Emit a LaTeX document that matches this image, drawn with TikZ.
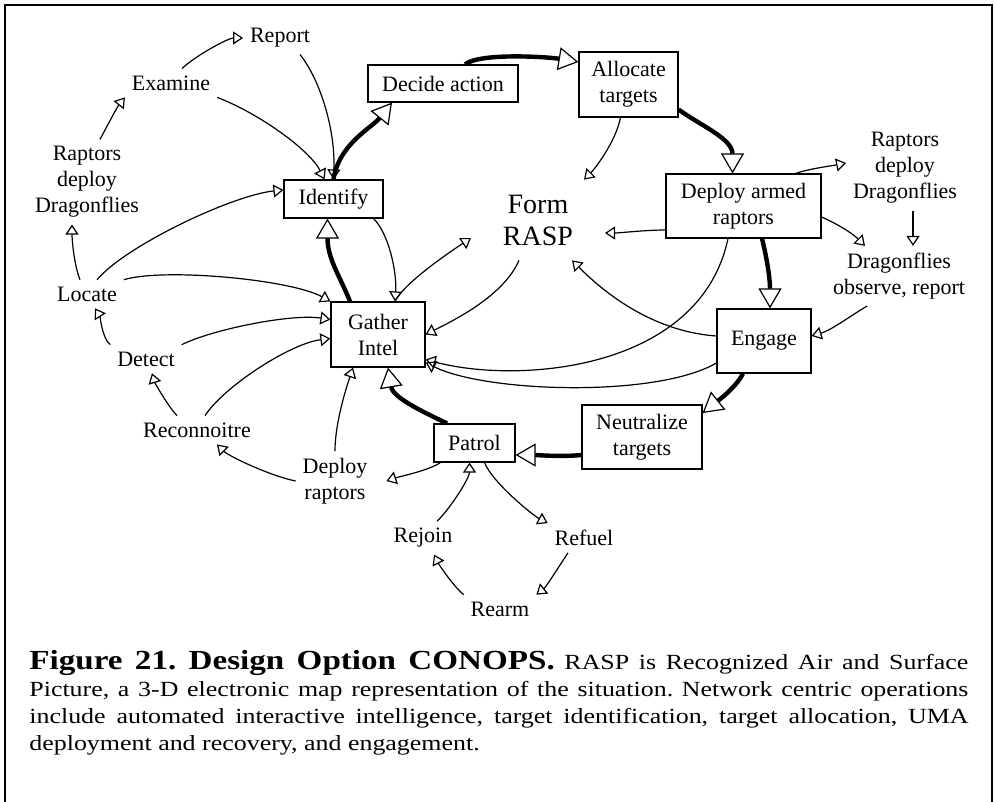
\documentclass[tikz,border=0pt]{standalone}
\usepackage{fontspec}
\setmainfont{Liberation Serif}
\newfontfamily\capfont[FakeStretch=1.2]{Liberation Serif}
\usepackage{tikz}
\usetikzlibrary{arrows.meta}
\newcommand{\labfont}{\fontsize{11}{13}\selectfont}
\newcommand{\raspfont}{\fontsize{14}{16}\selectfont}

\begin{document}
\frenchspacing
\begin{tikzpicture}[
          x=0.5pt, y=-0.5pt,
          box/.style={rectangle, draw, line width=0.6pt, inner sep=1pt,
                      align=center, font=\labfont},
          tag/.style={inner sep=2pt, outer sep=1.5pt, align=center,
                      font=\labfont},
          ar/.style={line width=0.6pt,
                     -{Triangle[open, length=5pt, width=6.5pt, line width=0.6pt]}},
          cyc/.style={line width=2.2pt,
                      -{Triangle[open, length=10pt, width=11.5pt, line width=0.6pt]}}
        ]
          \useasboundingbox (0,0) rectangle (995,802);
          \draw[line width=1pt] (5,802) -- (5,5) -- (992,5) -- (992,802);

          \node[box, minimum width=47pt, minimum height=32.5pt]   (gi)  at (378,334.5) {Gather\\Intel};
          \node[box, minimum width=49.5pt, minimum height=19pt]   (idf) at (333.5,199) {Identify};
          \node[box, minimum width=75pt, minimum height=18.5pt]   (dec) at (443,83.5)  {Decide action};
          \node[box, minimum width=49.5pt, minimum height=32.5pt] (alc) at (628.5,84.5) {Allocate\\targets};
          \node[box, minimum width=77.5pt, minimum height=32pt]   (dar) at (743.5,206) {Deploy armed\\raptors};
          \node[box, minimum width=47pt, minimum height=32pt]     (eng) at (764,341)   {Engage};
          \node[box, minimum width=60pt, minimum height=32pt]     (neu) at (642,437)   {Neutralize\\targets};
          \node[box, minimum width=40.5pt, minimum height=19pt]   (pat) at (474.5,443) {Patrol};

          \node[tag] (rep) at (280,38)  {Report};
          \node[tag] (exa) at (171,83)  {Examine};
          \node[tag] (rdl) at (87,182)  {Raptors\\deploy\\Dragonflies};
          \node[tag] (loc) at (87,294)  {Locate};
          \node[tag] (det) at (146,359) {Detect};
          \node[tag] (rec) at (197,430) {Reconnoitre};
          \node[tag] (dep) at (335,481) {Deploy\\raptors};
          \node[tag] (rjn) at (423,538) {Rejoin};
          \node[tag] (rrm) at (500,609) {Rearm};
          \node[tag] (rfl) at (584,538) {Refuel};
          \node[tag] (rdr) at (905,168) {Raptors\\deploy\\Dragonflies};
          \node[tag] (dob) at (899,276) {Dragonflies\\observe, report};
          \node[tag, font=\raspfont, inner xsep=16pt, inner ysep=7.5pt, outer sep=0pt] (rasp) at (538,220) {Form\\RASP};

          \draw[cyc] ([xshift=-14pt]gi.north) .. controls +(-10,-25) and +(0,40) .. ([xshift=-3pt]idf.south);
          \draw[cyc] (idf.north) .. controls +(5,-35) and +(-20,25) .. ([xshift=-25.5pt]dec.south);
          \draw[cyc] ([xshift=11pt]dec.north) .. controls +(15,-12) and +(-30,-5) .. ([yshift=11.25pt]alc.west);
          \draw[cyc] ([yshift=-12.5pt]alc.east) .. controls +(20,15) and +(0,-35) .. ([xshift=-5.5pt]dar.north);
          \draw[cyc] ([xshift=9.25pt]dar.south) .. controls +(5,20) and +(0,-30) .. ([xshift=3pt]eng.north);
          \draw[cyc] ([xshift=-10.5pt]eng.south) .. controls +(-8,15) and +(15,-12) .. ([yshift=12pt]neu.east);
          \draw[cyc] ([yshift=-9pt]neu.west) .. controls +(-20,2) and +(20,0) .. ([yshift=-6pt]pat.east);
          \draw[cyc] ([xshift=-13.75pt]pat.north) .. controls +(-25,-12) and +(5,30) .. ([xshift=5pt]gi.south);

          \draw[ar] ([xshift=-3.5pt]loc.north) .. controls +(-6,-15) and +(0,15) .. ([xshift=-7.5pt]rdl.south);
          \draw[ar] ([xshift=6.5pt]rdl.north) .. controls +(8,-15) and +(-8,10) .. (exa.south west);
          \draw[ar] ([xshift=5.5pt]exa.north) .. controls +(12,-12) and +(-15,0) .. (rep.west);
          \draw[ar] ([xshift=10pt]rep.south) .. controls +(20,25) and +(2,-50) .. (idf.north);
          \draw[ar] (exa.south east) .. controls +(40,15) and +(-15,-30) .. ([xshift=-4.5pt]idf.north);
          \draw[ar] ([xshift=5pt]loc.north) .. controls +(30,-35) and +(-50,5) .. ([yshift=4.5pt]idf.west);
          \draw[ar] (loc.north east) .. controls +(40,-12) and +(-40,-22) .. (gi.north west);
          \draw[ar] (det.north west) .. controls +(-8,-6) and +(5,8) .. ([xshift=4pt]loc.south);
          \draw[ar] (det.north east) .. controls +(30,-15) and +(-40,-6) .. ([yshift=7.5pt]gi.west);
          \draw[ar] ([xshift=-10pt]rec.north) .. controls +(-8,-8) and +(3,10) .. ([xshift=3pt]det.south);
          \draw[ar] ([xshift=4pt]rec.north) .. controls +(20,-30) and +(-40,5) .. ([yshift=-2pt]gi.west);
          \draw[ar] (dep.west) .. controls +(-25,-5) and +(12,12) .. ([xshift=10pt]rec.south);
          \draw[ar] (dep.north) .. controls +(0,-30) and +(-5,15) .. ([xshift=-12.5pt]gi.south);
          \draw[ar] ([xshift=3.5pt]pat.south west) .. controls +(-12,8) and +(15,-5) .. ([xshift=6pt]dep.east);
          \draw[ar] ([xshift=7pt]rjn.north) .. controls +(15,-15) and +(0,15) .. ([xshift=-2.5pt]pat.south);
          \draw[ar] ([xshift=5pt]pat.south) .. controls +(8,20) and +(-15,-8) .. (rfl.north west);
          \draw[ar] ([xshift=-8pt]rfl.south) .. controls +(-8,12) and +(10,-8) .. (rrm.north east);
          \draw[ar] (rrm.north west) .. controls +(-10,-8) and +(5,10) .. ([xshift=5.5pt]rjn.south);
          \draw[ar] ([xshift=-5pt]idf.south east) .. controls +(15,15) and +(2,-30) .. ([xshift=8.5pt]gi.north);
          \draw[ar] ([xshift=8.5pt]gi.north) .. controls +(10,-20) and +(-15,10) .. ([yshift=-9pt]rasp.west);
          \draw[ar] ([xshift=-9.5pt]rasp.south) .. controls +(-15,35) and +(30,-15) .. (gi.east);
          \draw[ar] ([xshift=-4pt]alc.south) .. controls +(-5,25) and +(10,-10) .. ([xshift=23pt]rasp.north);
          \draw[ar] ([yshift=-12pt]dar.west) .. controls +(-20,0) and +(15,0) .. ([yshift=-6.5pt]rasp.east);
          \draw[ar] ([yshift=2.5pt]eng.west) .. controls +(-70,-5) and +(25,25) .. ([xshift=17pt]rasp.south);
          \draw[ar] ([xshift=-7.75pt]dar.south) .. controls +(-28,132) and +(93,25) .. ([yshift=-12.5pt]gi.east);
          \draw[ar] ([yshift=-11pt]eng.west) .. controls +(-60,35) and +(60,30) .. ([yshift=-14pt]gi.east);
          \draw[ar] ([xshift=-13pt]dar.north east) .. controls +(15,-5) and +(-15,3) .. ([yshift=2.5pt]rdr.west);
          \draw[ar] ([xshift=4pt]rdr.south) -- ([xshift=7pt]dob.north);
          \draw[ar] ([yshift=-5.5pt]dar.east) .. controls +(18,8) and +(-12,-12) .. ([xshift=-17pt]dob.north);
          \draw[ar] ([xshift=-16pt]dob.south) .. controls +(-20,12) and +(20,-6) .. ([yshift=2.5pt]eng.east);

          \node[anchor=north west, text width=469.5pt, align=justify, inner sep=0pt,
                font=\capfont\fontsize{10.8}{13.5}\selectfont] (cap) at (29,650)
            {{\fontsize{13.8}{13.5}\selectfont\bfseries Figure 21. Design Option CONOPS.}
             RASP is Recognized Air and Surface\linebreak
             Picture, a 3-D electronic map representation of the situation. Network centric operations\linebreak
             include automated interactive intelligence, target identification, target allocation, UMA\linebreak
             deployment and recovery, and engagement.};
        \end{tikzpicture}
\end{document}
